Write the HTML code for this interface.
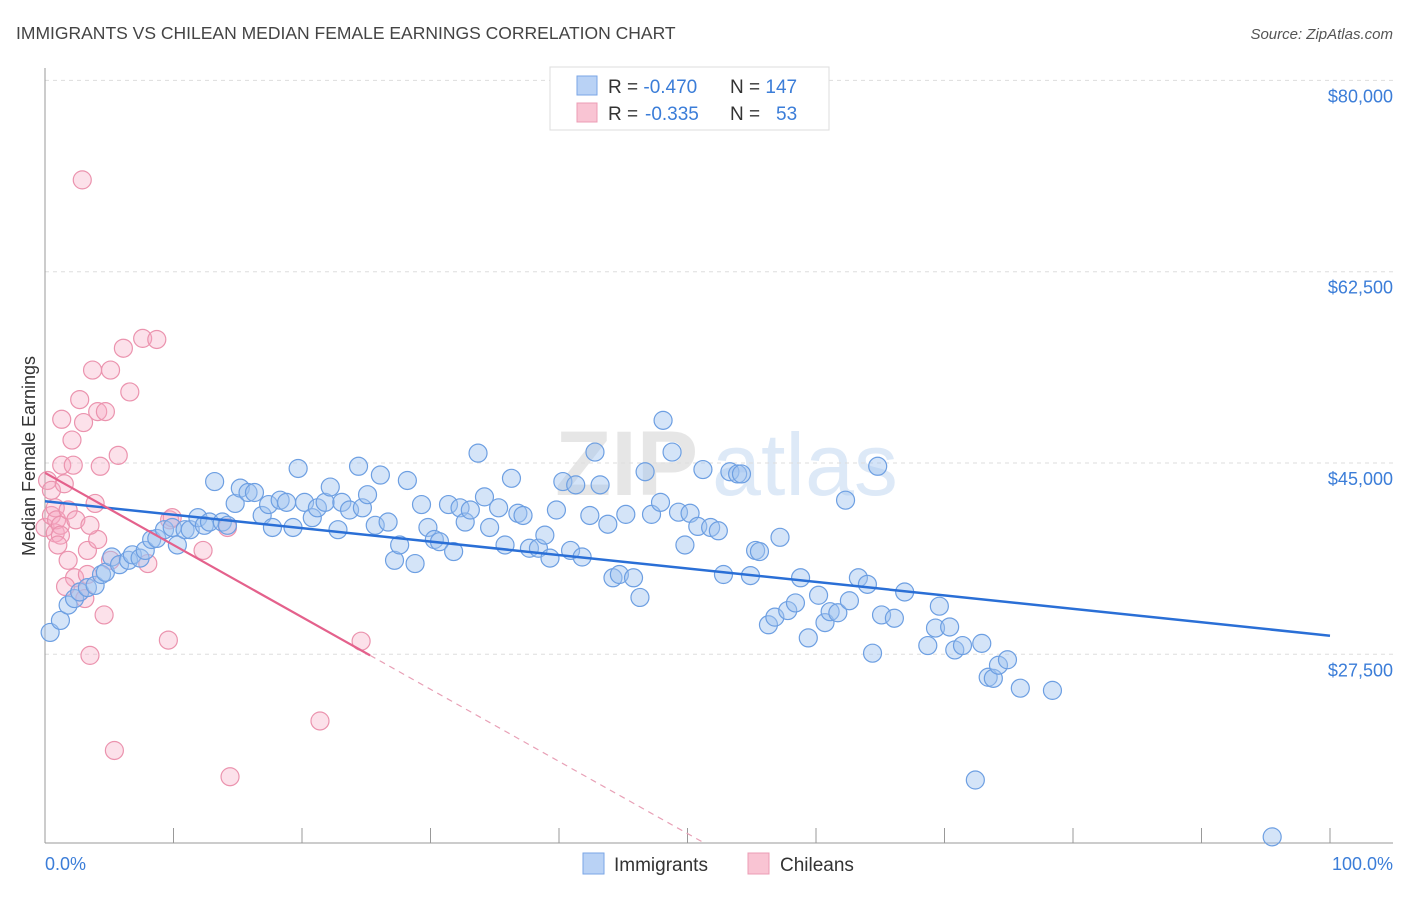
<!DOCTYPE html>
<html><head><meta charset="utf-8"><style>
body{margin:0;background:#fff;font-family:"Liberation Sans",sans-serif}
svg text{font-family:"Liberation Sans",sans-serif}
</style></head><body>
<svg id="chart" width="1406" height="892" xmlns="http://www.w3.org/2000/svg">
<text x="16" y="39" font-size="17.5" fill="#444">IMMIGRANTS VS CHILEAN MEDIAN FEMALE EARNINGS CORRELATION CHART</text>
<text x="1393" y="39" font-size="15" fill="#555" font-style="italic" text-anchor="end">Source: ZipAtlas.com</text>
<g opacity="0.18"><text x="555" y="495" font-size="92" font-family="Liberation Serif" font-weight="bold" fill="#777">ZIP</text><text x="712" y="495" font-size="88" fill="#4a8ad8">atlas</text></g>
<text transform="translate(35,456) rotate(-90)" font-size="18" fill="#333" text-anchor="middle">Median Female Earnings</text>
<g id="grid"></g><g id="axes"></g><g id="pts"></g><g id="lines"></g>
<g>
<rect x="550" y="67" width="279" height="63" fill="#fff" stroke="#ddd"/>
<rect x="577" y="76" width="20" height="19" fill="#b9d2f5" stroke="#7aa6e6"/>
<rect x="577" y="103" width="20" height="19" fill="#f9c4d3" stroke="#ec9cb4"/>
<text x="608" y="93" font-size="19" fill="#333">R = <tspan fill="#3b7dd8">-0.470</tspan><tspan x="730">N = </tspan><tspan fill="#3b7dd8">147</tspan></text>
<text x="608" y="120" font-size="19" fill="#333">R = <tspan x="645" fill="#3b7dd8">-0.335</tspan><tspan x="730">N = </tspan><tspan x="776" fill="#3b7dd8">53</tspan></text>
</g>
<g>
<rect x="583" y="853" width="21" height="21" fill="#b9d2f5" stroke="#7aa6e6"/>
<text x="614" y="871" font-size="19" fill="#333">Immigrants</text>
<rect x="748" y="853" width="21" height="21" fill="#f9c4d3" stroke="#ec9cb4"/>
<text x="780" y="871" font-size="19" fill="#333">Chileans</text>
</g>
</svg>
<script>
const yTicks=[80000,62500,45000,27500];
const yTickLabels=["$80,000","$62,500","$45,000","$27,500"];
const xTickLabels=["0.0%","100.0%"];
const blueX=[0.4,1.2,1.8,2.3,2.7,3.3,3.9,4.4,4.7,5.2,5.8,6.5,6.8,7.4,7.8,8.3,8.7,9.3,9.9,10.3,10.9,11.3,11.9,12.4,12.8,13.2,13.8,14.2,14.8,15.2,15.8,16.3,16.9,17.4,17.7,18.3,18.8,19.3,19.7,20.2,20.8,21.2,21.8,22.2,22.8,23.1,23.7,24.4,24.7,25.1,25.7,26.1,26.7,27.2,27.6,28.2,28.8,29.3,29.8,30.3,30.7,31.4,31.8,32.3,32.7,33.1,33.7,34.2,34.6,35.3,35.8,36.3,36.8,37.2,37.7,38.4,38.9,39.3,39.8,40.3,40.9,41.3,41.8,42.4,42.8,43.2,43.8,44.2,44.7,45.2,45.8,46.3,46.7,47.2,47.9,48.1,48.8,49.3,49.8,50.2,50.8,51.2,51.8,52.4,52.8,53.3,53.9,54.2,54.9,55.3,55.6,56.3,56.8,57.2,57.8,58.4,58.8,59.4,60.2,60.7,61.1,61.7,62.3,62.6,63.3,64.0,64.4,64.8,65.1,66.1,66.9,68.7,69.3,69.6,70.4,70.8,71.4,72.9,73.4,73.8,74.2,74.9,75.9,78.4,72.4,95.5];
const blueY=[29.5,30.6,32.0,32.6,33.2,33.6,33.8,34.8,35.0,36.4,35.7,36.1,36.6,36.3,37.0,38.0,38.1,38.9,39.1,37.5,38.9,38.9,40.0,39.3,39.6,43.3,39.6,39.3,41.3,42.7,42.3,42.3,40.2,41.2,39.1,41.6,41.4,39.1,44.5,41.4,40.0,40.9,41.4,42.8,38.9,41.4,40.7,44.7,40.9,42.1,39.3,43.9,39.6,36.1,37.5,43.4,35.8,41.2,39.1,38.0,37.8,41.2,36.9,40.9,39.6,40.7,45.9,41.9,39.1,40.9,37.5,43.6,40.4,40.2,37.2,37.2,38.4,36.3,40.7,43.3,37.0,43.0,36.4,40.2,46.0,43.0,39.4,34.5,34.8,40.3,34.5,32.7,44.2,40.3,41.4,48.9,46.0,40.5,37.5,40.4,39.2,44.4,39.1,38.8,34.8,44.2,44.0,44.0,34.7,37.0,36.9,30.2,30.9,38.2,31.5,32.2,34.5,29.0,32.9,30.4,31.4,31.3,41.6,32.4,34.5,33.9,27.6,44.7,31.1,30.8,33.2,28.3,29.9,31.9,30.0,27.9,28.3,28.5,25.4,25.3,26.5,27.0,24.4,24.2,16.0,10.8];
const pinkX=[0.0,0.2,0.5,0.5,0.8,0.8,0.9,1.2,1.2,1.3,1.3,1.5,1.8,1.8,2.1,2.2,2.3,2.4,2.7,2.7,2.9,3.0,3.1,3.3,3.3,3.5,3.7,3.9,4.1,4.3,4.1,4.6,4.7,5.1,5.1,5.4,5.7,6.1,6.6,7.6,8.0,8.7,9.6,9.7,9.9,12.3,14.2,14.4,21.4,24.6,1.0,1.6,3.5];
const pinkY=[39.1,43.4,42.5,40.2,40.9,38.6,39.8,39.3,38.4,49.0,44.8,43.1,40.7,36.1,47.1,44.8,34.5,39.8,50.8,33.2,70.9,48.7,32.6,37.0,34.8,27.4,53.5,41.3,49.7,44.7,38.0,31.1,49.7,53.5,36.1,18.7,45.7,55.5,51.5,56.4,35.8,56.3,28.8,39.8,40.0,37.0,39.1,16.3,21.4,28.7,37.5,33.7,39.3];
// regression lines: [value at x=0 (thousands), value at x=100]
const blueLine=[41.5,29.2];
const pinkLine=[44.1,-21.9];
const pinkSolidEnd=25.3;

const NS="http://www.w3.org/2000/svg";
const X0=45,X1=1330,YREF=463,PXK=191.3/17.5;
const sx=v=>X0+(X1-X0)*v/100;
const sy=k=>YREF-(k-45)*PXK;
function mk(tag,attrs,parent){const e=document.createElementNS(NS,tag);for(const k in attrs)e.setAttribute(k,attrs[k]);parent.appendChild(e);return e;}
const grid=document.getElementById('grid'),axes=document.getElementById('axes'),pts=document.getElementById('pts'),lines=document.getElementById('lines');
yTicks.forEach((t,i)=>{const y=sy(t/1000);
 const g=mk('line',{x1:45,x2:1393,y1:y,y2:y,stroke:'#ddd','stroke-dasharray':'4,4'},grid);
 
 
 const tx=mk('text',{x:1393,y:y+22,'font-size':18,fill:'#3b7dd8','text-anchor':'end'},grid);tx.textContent=yTickLabels[i];
 
 
});
const ax=mk('line',{x1:45,x2:45,y1:68,y2:843,stroke:'#999'},axes);


const bx=mk('line',{x1:45,x2:1393,y1:843,y2:843,stroke:'#999'},axes);


for(let i=0;i<=10;i++){const t=mk('line',{x1:sx(i*10),x2:sx(i*10),y1:828,y2:843,stroke:'#999'},axes);
 
 }
const xl0=mk('text',{x:45,y:870,'font-size':18,fill:'#3b7dd8'},axes);xl0.textContent=xTickLabels[0];


const xl1=mk('text',{x:1393,y:870,'font-size':18,fill:'#3b7dd8','text-anchor':'end'},axes);xl1.textContent=xTickLabels[1];


pinkX.forEach((x,i)=>{const c=mk('circle',{cx:sx(x),cy:sy(pinkY[i]),r:9,fill:'rgba(246,170,196,0.35)',stroke:'#eb93ae','stroke-width':1.2},pts);
 
 });
blueX.forEach((x,i)=>{const c=mk('circle',{cx:sx(x),cy:sy(blueY[i]),r:9,fill:'rgba(160,196,240,0.45)',stroke:'#6d9fe2','stroke-width':1.2},pts);
 
 });
const bl=mk('line',{x1:sx(0),y1:sy(blueLine[0]),x2:sx(100),y2:sy(blueLine[1]),stroke:'#2a6fd6','stroke-width':2.5},lines);


const pv=x=>pinkLine[0]+(pinkLine[1]-pinkLine[0])*x/100;
const pl=mk('line',{x1:sx(0),y1:sy(pv(0)),x2:sx(pinkSolidEnd),y2:sy(pv(pinkSolidEnd)),stroke:'#e4618c','stroke-width':2.2},lines);


const xEnd=(10.2-pinkLine[0])/(pinkLine[1]-pinkLine[0])*100;
const pd=mk('line',{x1:sx(pinkSolidEnd),y1:sy(pv(pinkSolidEnd)),x2:sx(xEnd),y2:sy(pv(xEnd)),stroke:'#e8a0b6','stroke-width':1.2,'stroke-dasharray':'6,5'},lines);


</script>
</body></html>
